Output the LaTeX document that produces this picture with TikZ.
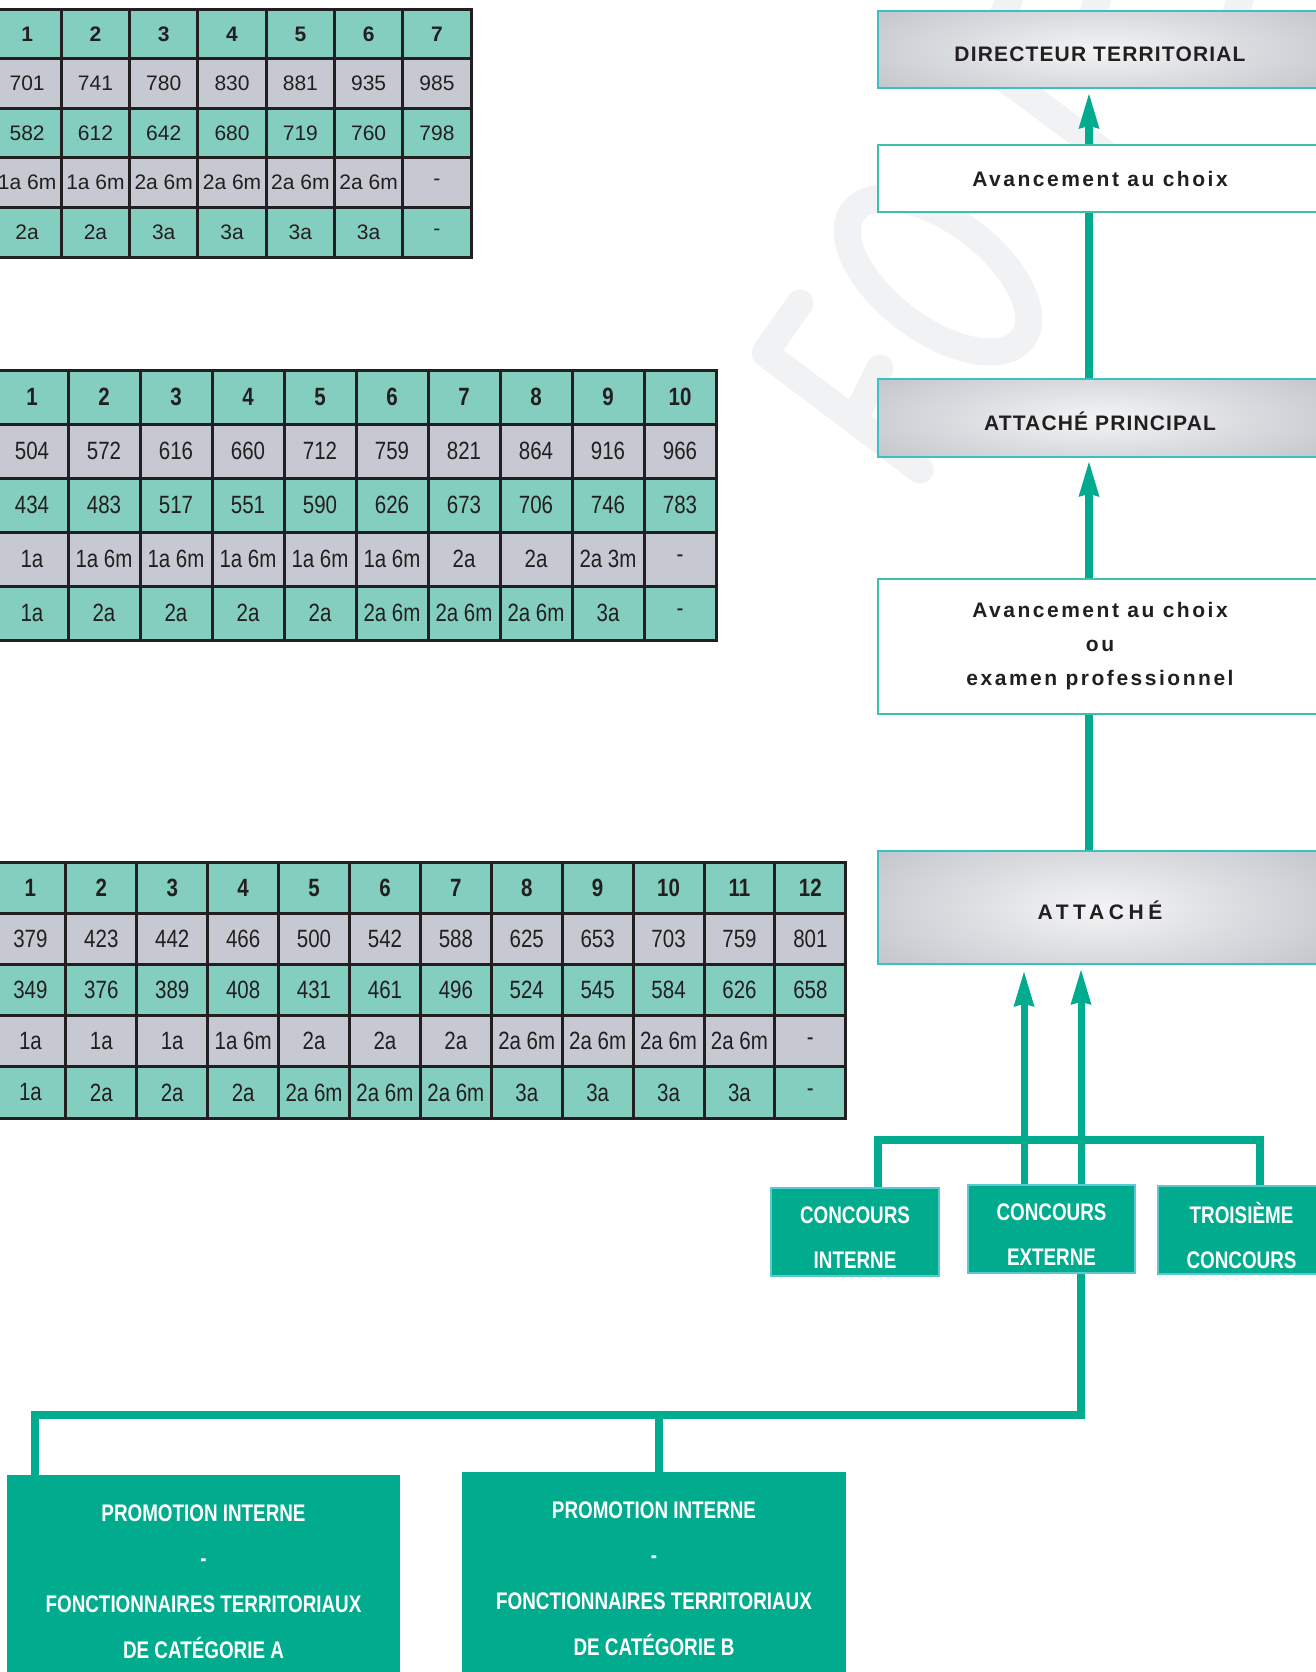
\documentclass[tikz,border=0pt]{standalone}
\usepackage{fontspec}
\setmainfont{Liberation Sans}
\newfontfamily\narrowfont[FakeStretch=0.82]{Liberation Sans}
\newfontfamily\bnarrowfont[FakeStretch=0.785]{Liberation Sans}
\newfontfamily\capsfont[LetterSpace=5.5]{Liberation Sans}
\newfontfamily\lowfont[LetterSpace=12]{Liberation Sans}
\newfontfamily\widecapsfont[LetterSpace=22]{Liberation Sans}
\usetikzlibrary{arrows.meta}
\definecolor{teal1}{HTML}{00AB8E}
\definecolor{tgreen}{HTML}{84CEC0}
\definecolor{tgray}{HTML}{C6C9D1}
\definecolor{ink}{HTML}{231F20}
\definecolor{gout}{HTML}{A5ABB3}
\definecolor{gin}{HTML}{F3F4F5}
\definecolor{cyanline}{HTML}{3DBFC6}
\definecolor{wline}{HTML}{3EBFAA}
\definecolor{cline}{HTML}{5CC8D2}
\definecolor{wm}{HTML}{F1F2F4}
\pgfdeclareradialshading{gshade}{\pgfpoint{0bp}{0bp}}{color(0bp)=(gin); color(50bp)=(gout); color(72bp)=(gout)}
\newcommand\trow[8]{\foreach \v [count=\c] in {#8}{\node[#3,fill=#4] (#1-#2-\c) at ({#5+#6*(\c-0.5)},#7) {\v};}}
\tikzset{
  tcell/.style={draw=ink, line width=3pt, inner sep=0pt, outer sep=0pt, text=ink},
  tca/.style={tcell, minimum width=68.3pt, minimum height=49.5pt, font=\fontsize{21}{24}\selectfont},
  tcb/.style={tcell, minimum width=72pt, minimum height=54pt, font=\narrowfont\fontsize{25}{28}\selectfont},
  tcc/.style={tcell, minimum width=70.9pt, minimum height=51.2pt, font=\narrowfont\fontsize{25}{28}\selectfont},
  hdr/.style={execute at begin node=\bfseries},
  gbox/.style={draw=cyanline, line width=1.8pt, minimum width=444pt, inner sep=0pt, text=ink,
    font=\capsfont\bfseries\fontsize{21}{25}\selectfont, text height=25pt,
    path picture={\shade[shading=gshade] ([yshift=-#1]path picture bounding box.south west) rectangle ([yshift=#1]path picture bounding box.north east);}},
  wbox/.style={draw=wline, line width=1.8pt, fill=white, minimum width=444pt, inner sep=0pt, text=ink,
    font=\lowfont\bfseries\fontsize{21}{34}\selectfont, align=center},
  cbox/.style={draw=cline, line width=1.5pt, fill=teal1, inner sep=0pt, minimum height=88pt},
  ctext/.style={text=white, inner sep=0pt, yshift=-5.5pt,
    font=\bnarrowfont\bfseries\fontsize{24}{44.5}\selectfont, align=center},
  pbox/.style={fill=teal1, text=white, inner sep=0pt, minimum height=213pt,
    font=\bnarrowfont\bfseries\fontsize{24}{45.7}\selectfont, align=center},
  arrowline/.style={draw=teal1, line width=8pt, -{Stealth[width=21pt,length=35pt,inset=3pt,line width=0pt]}},
  conn/.style={draw=teal1, line width=7.5pt, line join=miter},
  wmark/.style={draw=wm, line width=27pt, line cap=round, line join=round},
}
\begin{document}
\begin{tikzpicture}[x=1pt,y=-1pt]
\useasboundingbox (0,0) rectangle (1315,1672);
\fill[white] (0,0) rectangle (1315,1672);
% watermark
\draw[wmark] (800,303) -- (765,353) -- (920,470);
\draw[wmark] (854,420) -- (880,368);
\draw[wmark, rotate around={-36.9:(938,275)}] (938,275) ellipse [x radius=106pt, y radius=54pt];
\draw[wmark] (960,45) -- (1130,172);
\draw[wmark] (998,28) -- (1012,-8);
\draw[wmark] (1088,28) -- (1100,-8);
\draw[wmark] (1232,28) -- (1242,-8);
% table 1
\trow{ta}{1}{tca,hdr}{tgreen}{-7}{68.3}{34.25}{1,2,3,4,5,6,7}
\trow{ta}{2}{tca}{tgray}{-7}{68.3}{83.75}{701,741,780,830,881,935,985}
\trow{ta}{3}{tca}{tgreen}{-7}{68.3}{133.25}{582,612,642,680,719,760,798}
\trow{ta}{4}{tca}{tgray}{-7}{68.3}{182.75}{1a 6m,1a 6m,2a 6m,2a 6m,2a 6m,2a 6m,-}
\trow{ta}{5}{tca}{tgreen}{-7}{68.3}{232.25}{2a,2a,3a,3a,3a,3a,-}
% table 2
\trow{tb}{1}{tcb,hdr}{tgreen}{-4}{72}{397}{1,2,3,4,5,6,7,8,9,10}
\trow{tb}{2}{tcb}{tgray}{-4}{72}{451}{504,572,616,660,712,759,821,864,916,966}
\trow{tb}{3}{tcb}{tgreen}{-4}{72}{505}{434,483,517,551,590,626,673,706,746,783}
\trow{tb}{4}{tcb}{tgray}{-4}{72}{559}{1a,1a 6m,1a 6m,1a 6m,1a 6m,1a 6m,2a,2a,2a 3m,-}
\trow{tb}{5}{tcb}{tgreen}{-4}{72}{613}{1a,2a,2a,2a,2a,2a 6m,2a 6m,2a 6m,3a,-}
% table 3
\trow{tc}{1}{tcc,hdr}{tgreen}{-5}{70.9}{887.6}{1,2,3,4,5,6,7,8,9,10,11,12}
\trow{tc}{2}{tcc}{tgray}{-5}{70.9}{938.8}{379,423,442,466,500,542,588,625,653,703,759,801}
\trow{tc}{3}{tcc}{tgreen}{-5}{70.9}{990}{349,376,389,408,431,461,496,524,545,584,626,658}
\trow{tc}{4}{tcc}{tgray}{-5}{70.9}{1041.2}{1a,1a,1a,1a 6m,2a,2a,2a,2a 6m,2a 6m,2a 6m,2a 6m,-}
\trow{tc}{5}{tcc}{tgreen}{-5}{70.9}{1092.4}{1a,2a,2a,2a,2a 6m,2a 6m,2a 6m,3a,3a,3a,3a,-}
% grade boxes
\node[gbox=14pt, minimum height=77pt] (dir) at (1100,49.5) {DIRECTEUR TERRITORIAL};
\node[wbox, minimum height=67pt] (av1) at (1100,178.5) {Avancement au choix};
\node[gbox=14pt, minimum height=78pt] (ap) at (1100,418) {ATTACHÉ PRINCIPAL};
\node[wbox, minimum height=135pt] (av2) at (1100,646.5) {Avancement au choix\\ou\\examen professionnel};
\node[gbox=20pt, minimum height=113pt, font=\widecapsfont\bfseries\fontsize{21}{25}\selectfont] (att) at (1100,907.5) {ATTACHÉ};
% concours
\node[cbox, minimum width=168pt, label={[ctext]center:{CONCOURS\\INTERNE}}] (ci) at (855,1232) {};
\node[cbox, minimum width=167pt, label={[ctext]center:{CONCOURS\\EXTERNE}}] (ce) at (1051.5,1229) {};
\node[cbox, minimum width=167pt, label={[ctext]center:{TROISIÈME\\CONCOURS}}] (ct) at (1241.5,1230) {};
% promotion
\node[pbox, minimum width=393pt] (pa) at (203.5,1581.5) {PROMOTION INTERNE\\-\\FONCTIONNAIRES TERRITORIAUX\\DE CATÉGORIE A};
\node[pbox, minimum width=384pt] (pb) at (654,1578.5) {PROMOTION INTERNE\\-\\FONCTIONNAIRES TERRITORIAUX\\DE CATÉGORIE B};
% helper coordinates
\coordinate (colx) at (1089,0);
\coordinate (ax1) at (1024,0);
\coordinate (ax2) at (1081,0);
\coordinate (bar) at (0,1140);
\coordinate (bx1) at (878,0);
\coordinate (bx2) at (1260,0);
\coordinate (hy) at (0,1415);
\coordinate (lx) at (35,0);
\coordinate (mx) at (659,0);
% connectors
\draw[arrowline, shorten >=5pt] (av1.north -| colx) -- (dir.south -| colx);
\draw[conn, line width=8pt] (ap.north -| colx) -- (av1.south -| colx);
\draw[arrowline, shorten >=4pt] (av2.north -| colx) -- (ap.south -| colx);
\draw[conn, line width=8pt] (att.north -| colx) -- (av2.south -| colx);
\draw[conn] (ci.north -| bx1) -- (bar -| bx1) -- (bar -| bx2) -- (ct.north -| bx2);
\draw[arrowline, line width=7pt, shorten >=7pt] (ce.north -| ax1) -- (att.south -| ax1);
\draw[arrowline, line width=7pt, shorten >=5pt] (ce.north -| ax2) -- (att.south -| ax2);
\draw[conn] (ce.south -| ax2) -- (hy -| ax2) -- (hy -| lx) -- (pa.north -| lx);
\draw[conn] (hy -| mx) -- (pb.north -| mx);
\end{tikzpicture}
\end{document}
